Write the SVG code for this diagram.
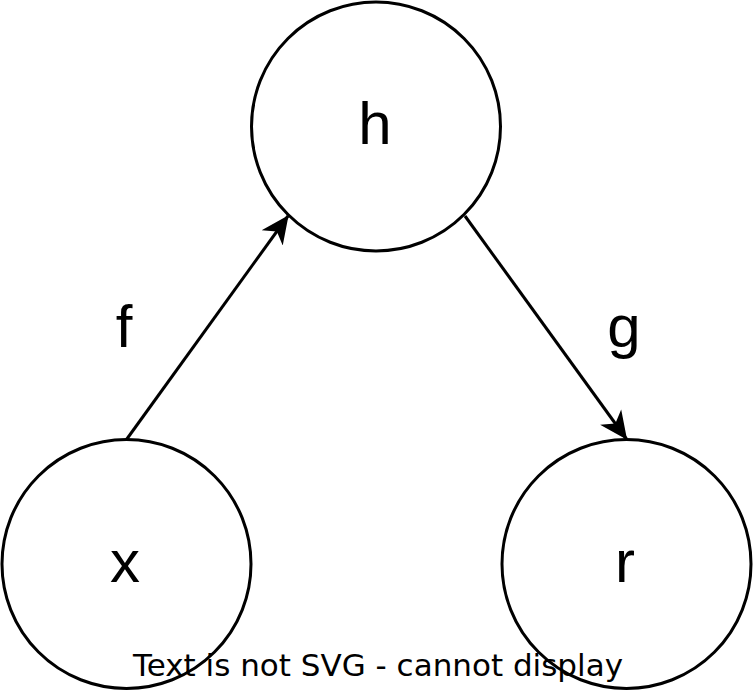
<svg xmlns="http://www.w3.org/2000/svg" width="753" height="691" viewBox="0 0 753 691">
<style>
.node{fill:#fff;stroke:#000;stroke-width:3}
.lbl{font-family:"Liberation Sans",Arial,sans-serif;font-size:60px;fill:#000;text-anchor:middle}
.edge{stroke:#000;stroke-width:3;fill:none}
.warn{font-family:"DejaVu Sans",sans-serif;font-size:31px;fill:#000;text-anchor:middle}
</style>
<defs>
<marker id="arr" viewBox="0 0 28 28" refX="27" refY="14" markerWidth="28" markerHeight="28" markerUnits="userSpaceOnUse" orient="auto">
<path d="M0,1 L28,14 L0,27 L8,14 Z" fill="#000"/>
</marker>
</defs>
<g id="node-h"><circle class="node" cx="376" cy="126.5" r="124.5"/><text class="lbl" x="375" y="144">h</text></g>
<g id="node-x"><circle class="node" cx="126.5" cy="564" r="124.5"/><text class="lbl" x="125" y="582">x</text></g>
<g id="node-r"><circle class="node" cx="626.5" cy="564" r="124.5"/><text class="lbl" x="625" y="582">r</text></g>
<g id="connectors">
<line class="edge" x1="126.5" y1="439.5" x2="288" y2="216" marker-end="url(#arr)"/>
<line class="edge" x1="465" y1="216" x2="626.5" y2="439" marker-end="url(#arr)"/>
</g>
<g id="labels">
<text class="lbl" x="124" y="347">f</text>
<text class="lbl" x="624" y="347">g</text>
</g>
<text class="warn" x="378" y="676">Text is not SVG - cannot display</text>
</svg>
